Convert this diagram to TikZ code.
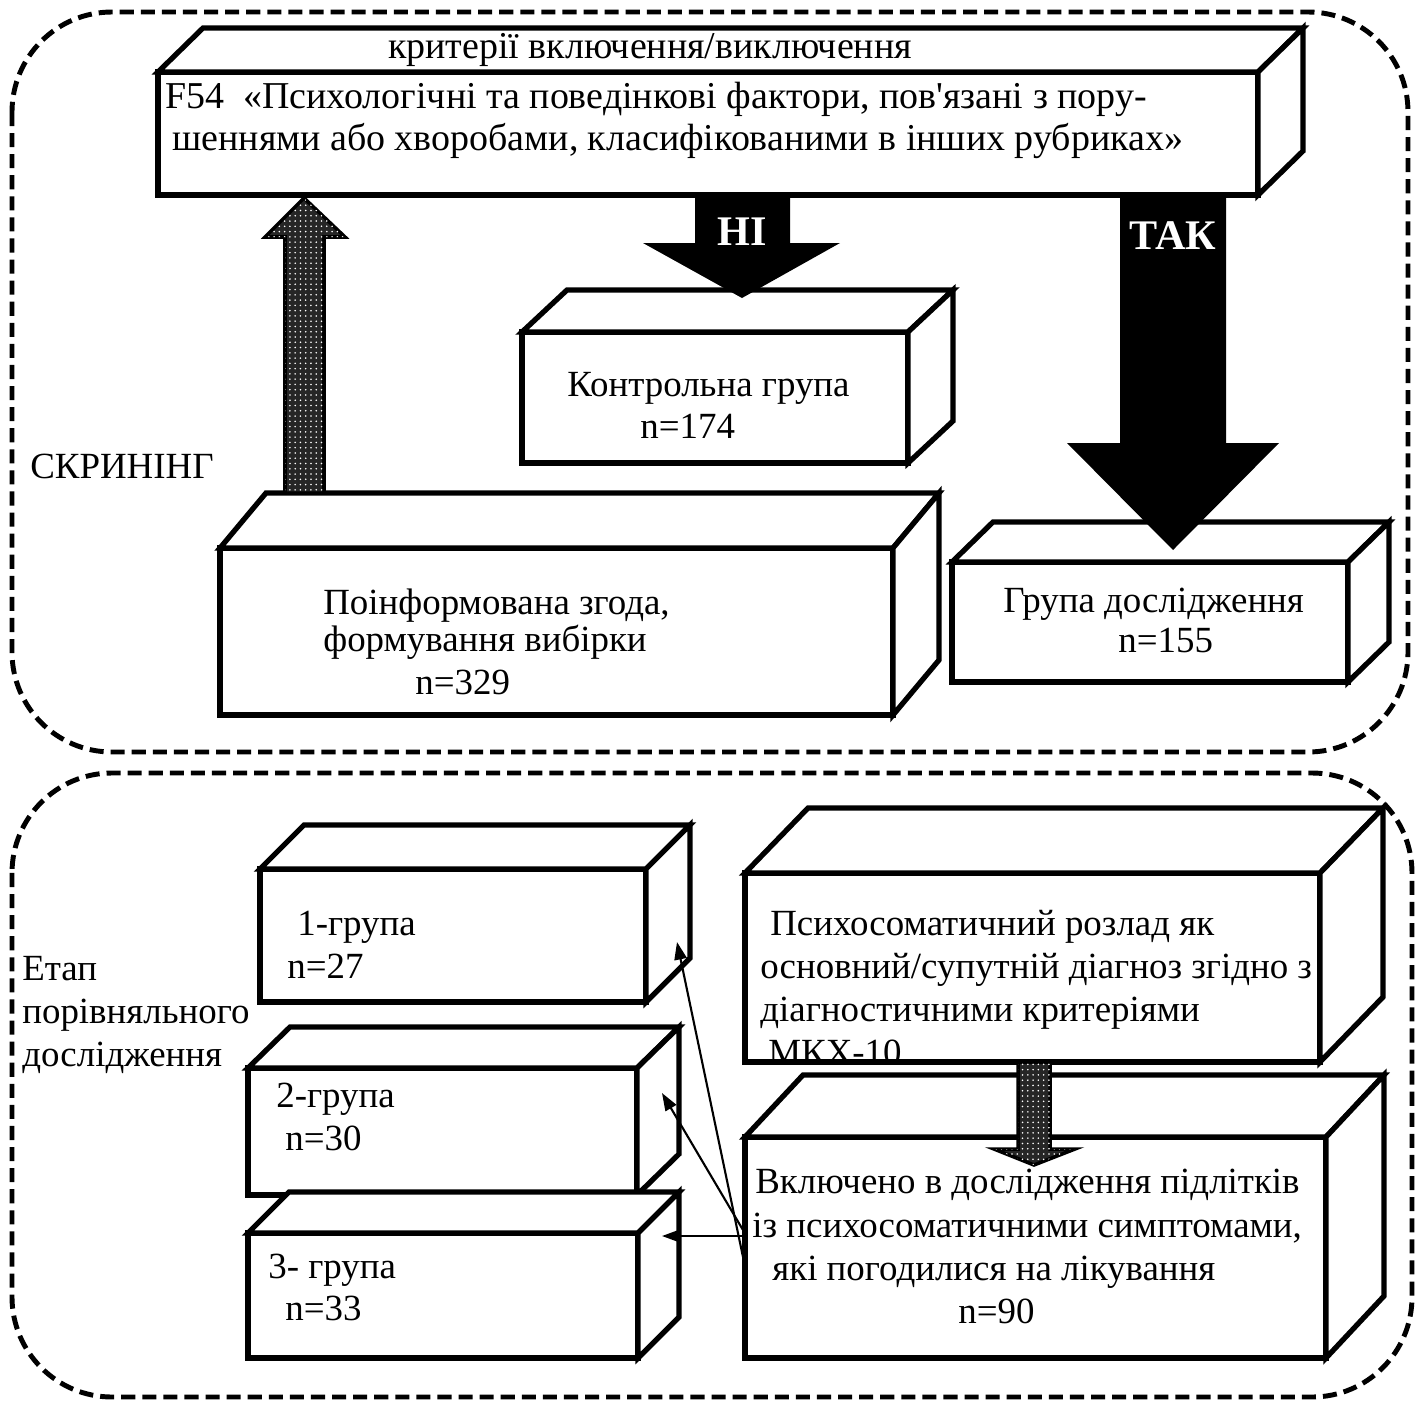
\documentclass[tikz,border=0pt]{standalone}
\usepackage{fontspec}
\setmainfont{Liberation Serif}
\newfontfamily\rawfont[Ligatures=ResetAll]{Liberation Serif}
\usetikzlibrary{patterns,arrows.meta,fit,calc}
\tikzset{
  boxline/.style={line width=3pt, line join=miter, fill=white},
  frame/.style={line width=2.8pt, dash pattern=on 8pt off 4pt, rounded corners=2cm},
  txt/.style={anchor=base west, inner sep=0pt, font=\fontsize{21}{24.5}\selectfont},
  bigtxt/.style={anchor=base west, inner sep=0pt, font=\fontsize{21.6}{25}\selectfont},
  blk/.style={fill=black, draw=none},
  lbl/.style={inner sep=0pt, text=white, font=\fontsize{24}{28}\selectfont\bfseries},
  hatchline/.style={draw=black, line width=2pt, fill=black!85},
  hatchdots/.style={pattern=dots, pattern color=white},
  thinarrow/.style={line width=1.2pt, -{Triangle[length=10pt,width=7pt]}},
}
\newcommand\cuboid[7]{%
  \coordinate (#1-nw) at (#2,#3);
  \coordinate (#1-se) at (#4,#5);
  \node[inner sep=0pt, outer sep=0pt, fit=(#1-nw)(#1-se)] (#1) {};
  \draw[boxline] (#1.north west) rectangle (#1.south east);
  \draw[boxline] (#1.north west) -- ++(#6,-#7) -- ($(#1.north east)+(#6,-#7)$) -- (#1.north east) -- cycle;
  \draw[boxline] (#1.north east) -- ++(#6,-#7) -- ($(#1.south east)+(#6,-#7)$) -- (#1.south east) -- cycle;
}
\begin{document}
\begin{tikzpicture}[x=0.02cm,y=-0.02cm]
\useasboundingbox (0,0) rectangle (1420,1407);
% frames
\draw[frame] (12,12) rectangle (1408,752);
\draw[frame] (12,773) rectangle (1412,1397);

% ---------- top section ----------
\cuboid{crit}{158}{72}{1258}{195}{45}{44}
\node[bigtxt, anchor=base] (crittitle) at (650,58) {критерії включення/виключення};
\node[bigtxt] (crit1) at (165,108) {F54\ \ «Психологічні та поведінкові фактори, пов{\rawfont'}язані з пору-};
\node[bigtxt] (crit2) at (172,150) {шеннями або хворобами, класифікованими в інших рубриках»};

\cuboid{kontr}{522}{332}{908}{463}{45}{42}
\node[txt] (kontr1) at (567,396) {Контрольна група};
\node[txt] (kontr2) at (640,438) {n=174};

\node[txt] (scr) at (30,478) {СКРИНІНГ};

\cuboid{info}{220}{548}{893}{715}{46}{55}
\node[txt] (info1) at (323,614) {Поінформована згода,};
\node[txt] (info2) at (323,651) {формування вибірки};
\node[txt] (info3) at (415,694) {n=329};

\cuboid{grp}{952}{562}{1348}{682}{41}{40}
\node[txt] (grp1) at (1003,612) {Група дослідження};
\node[txt] (grp2) at (1118,652) {n=155};

% block arrows top
\coordinate (noA) at (695,195);
\fill[blk] (noA) -- (695,243) -- (643,243) -- (742,298) -- (840,243) -- (790,243) -- (790,195) -- cycle;
\node[lbl] (nolbl) at (742,232) {НІ};
\coordinate (yesA) at (1120,195);
\fill[blk] (yesA) -- (1120,443) -- (1067,443) -- (1173,550) -- (1279,443) -- (1226,443) -- (1226,195) -- cycle;
\node[lbl] (yeslbl) at (1173,236) {ТАК};
\coordinate (upA) at (285,493);
\path[hatchline] (upA) -- (285,237) -- (265,237) -- (304,198) -- (345,237) -- (324,237) -- (324,493) -- cycle;
\path[hatchdots] (285,493) -- (285,237) -- (265,237) -- (304,198) -- (345,237) -- (324,237) -- (324,493) -- cycle;

% ---------- bottom section ----------
\node[txt] (etap1) at (22,980) {Етап};
\node[txt] (etap2) at (22,1023) {порівняльного};
\node[txt] (etap3) at (22,1066) {дослідження};

\cuboid{g1}{260}{869}{646}{1002}{44}{44}
\node[txt] (g1a) at (297,935) {1-група};
\node[txt] (g1b) at (287,978) {n=27};

\cuboid{g2}{248}{1068}{637}{1195}{42}{41}
\node[txt] (g2a) at (276,1107) {2-група};
\node[txt] (g2b) at (285,1150) {n=30};

\cuboid{g3}{248}{1233}{638}{1358}{41}{41}
\node[txt] (g3a) at (268,1278) {3- група};
\node[txt] (g3b) at (285,1320) {n=33};

\cuboid{psy}{745}{873}{1320}{1062}{63}{65}
\node[txt] (psy1) at (770,935) {Психосоматичний розлад як};
\node[txt] (psy2) at (760,978) {основний/супутній діагноз згідно з};
\node[txt] (psy3) at (760,1021) {діагностичними критеріями};
\node[txt] (psy4) at (768,1064) {МКХ-10};

\cuboid{inc}{745}{1137}{1326}{1358}{58}{62}
\node[txt] (inc1) at (755,1193) {Включено в дослідження підлітків};
\node[txt] (inc2) at (752,1237) {із психосоматичними симптомами,};
\node[txt] (inc3) at (772,1280) {які погодилися на лікування};
\node[txt] (inc4) at (958,1323) {n=90};

\coordinate (dnA) at (1018,1062);
\path[hatchline] (dnA) -- (1018,1149) -- (994,1149) -- (1034,1165) -- (1075,1149) -- (1050,1149) -- (1050,1062) -- cycle;
\path[hatchdots] (1018,1062) -- (1018,1149) -- (994,1149) -- (1034,1165) -- (1075,1149) -- (1050,1149) -- (1050,1062) -- cycle;

% thin arrows
\coordinate (s1) at (743,1257);
\coordinate (e1) at (677,942);
\coordinate (s2) at (743,1230);
\coordinate (e2) at (662,1093);
\coordinate (s3) at (743,1236);
\coordinate (e3) at (662,1236);
\draw[thinarrow] (s1) -- (e1);
\draw[thinarrow] (s2) -- (e2);
\draw[thinarrow] (s3) -- (e3);
\end{tikzpicture}
\end{document}
